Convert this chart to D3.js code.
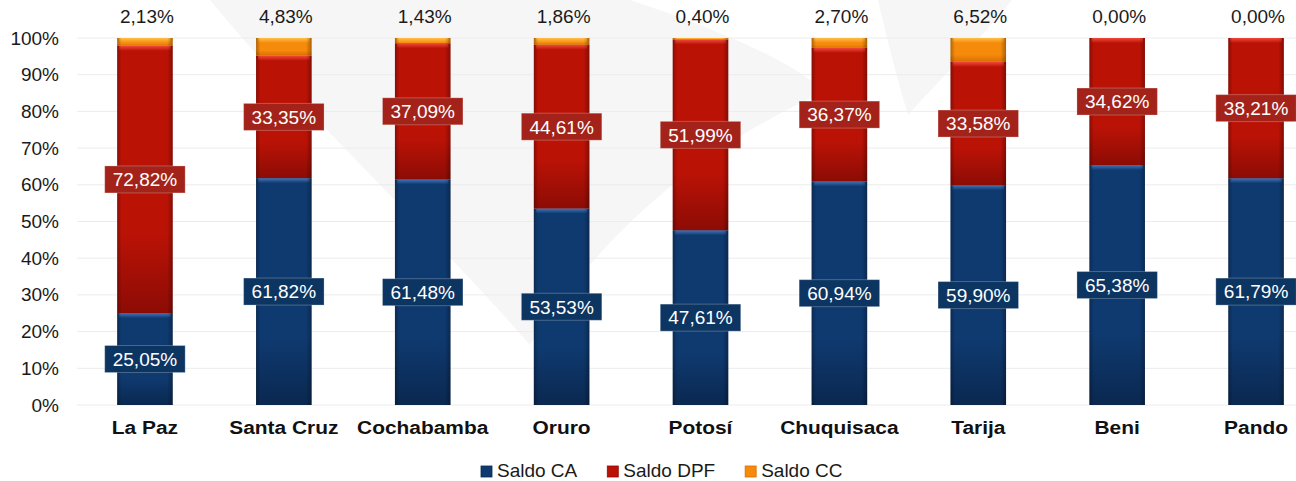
<!DOCTYPE html>
<html>
<head>
<meta charset="utf-8">
<script src="https://cdn.jsdelivr.net/npm/d3@7"></script>
<style>
  html, body { margin: 0; padding: 0; background: #fff; }
  svg { display: block; font-family: "Liberation Sans", Arial, sans-serif; }
</style>
</head>
<body>
<svg width="1296" height="481"></svg>
<script>
// data (percent of each department's total)
const categories = ["La Paz", "Santa Cruz", "Cochabamba", "Oruro", "Potosí", "Chuquisaca", "Tarija", "Beni", "Pando"];
const saldoCA  = [25.05, 61.82, 61.48, 53.53, 47.61, 60.94, 59.90, 65.38, 61.79];
const saldoDPF = [72.82, 33.35, 37.09, 44.61, 51.99, 36.37, 33.58, 34.62, 38.21];
const saldoCC  = [2.13, 4.83, 1.43, 1.86, 0.40, 2.70, 6.52, 0.00, 0.00];
const seriesNames = ["Saldo CA", "Saldo DPF", "Saldo CC"];
const yTicks = [0, 10, 20, 30, 40, 50, 60, 70, 80, 90, 100];

const rows = categories.map((c, i) => ({cat: c, ca: saldoCA[i], dpf: saldoDPF[i], cc: saldoCC[i]}));
const keys = ["ca", "dpf", "cc"];

const colors = {
  ca:  {main: "#0f3a70", dark: "#0a2850", hi: "#4474b8", box: "#0c3562"},
  dpf: {main: "#bb1206", dark: "#8c0c05", hi: "#f04a3a", box: "#a3231a"},
  cc:  {main: "#f68a0a", dark: "#d86e02", hi: "#ffc04a", box: "#d87000"}
};

const fmt = v => d3.format(".2f")(v).replace(".", ",") + "%";

const $svg = d3.select("svg");
const defs = $svg.append("defs");

keys.forEach(k => {
  const g = defs.append("linearGradient").attr("id", "v-" + k)
    .attr("x1", 0).attr("y1", 0).attr("x2", 0).attr("y2", 1);
  g.append("stop").attr("offset", "0%").attr("stop-color", colors[k].main);
  g.append("stop").attr("offset", "70%").attr("stop-color", colors[k].main);
  g.append("stop").attr("offset", "100%").attr("stop-color", colors[k].dark);

  const h = defs.append("linearGradient").attr("id", "hi-" + k)
    .attr("x1", 0).attr("y1", 0).attr("x2", 0).attr("y2", 1);
  h.append("stop").attr("offset", "0%").attr("stop-color", colors[k].hi);
  h.append("stop").attr("offset", "100%").attr("stop-color", colors[k].main);
});

// darker left / right edges of each bar
const edge = defs.append("linearGradient").attr("id", "edge")
  .attr("x1", 0).attr("y1", 0).attr("x2", 1).attr("y2", 0);
edge.append("stop").attr("offset", "0%").attr("stop-color", "#000").attr("stop-opacity", 0.28);
edge.append("stop").attr("offset", "8%").attr("stop-color", "#000").attr("stop-opacity", 0);
edge.append("stop").attr("offset", "90%").attr("stop-color", "#000").attr("stop-opacity", 0);
edge.append("stop").attr("offset", "100%").attr("stop-color", "#000").attr("stop-opacity", 0.3);

// faint watermark behind the chart
const wm = $svg.append("g").attr("fill", "#f6f6f6");
wm.append("path").attr("d", "M210,0 L630,0 C720,30 790,60 825,92 C690,150 590,250 530,345 C430,230 300,110 210,0 Z");
wm.append("path").attr("d", "M878,0 L1012,0 C975,45 935,85 908,115 C896,75 886,35 878,0 Z");

const x = d3.scaleBand()
  .domain(categories)
  .range([75.5, 1325.5])
  .paddingInner(0.6)
  .paddingOuter(0.3);

const y = d3.scaleLinear().domain([0, 100]).range([405, 38]);

// gridlines
$svg.append("g")
  .selectAll("line")
  .data(yTicks)
  .join("line")
    .attr("x1", 77).attr("x2", 1296)
    .attr("y1", d => y(d)).attr("y2", d => y(d))
    .attr("stroke", "#ececec").attr("stroke-width", 1);

// y axis
const yAxis = $svg.append("g")
  .attr("transform", "translate(60,0)")
  .call(d3.axisLeft(y).tickValues(yTicks).tickSize(0).tickPadding(1).tickFormat(d => d + "%"));
yAxis.select(".domain").remove();
yAxis.selectAll("text")
  .attr("font-size", 19)
  .attr("font-family", "Liberation Sans, Arial, sans-serif")
  .attr("fill", "#1a1a1a");

// bars
const stacked = d3.stack().keys(keys)(rows);
const bw = x.bandwidth();

const layer = $svg.append("g")
  .selectAll("g")
  .data(stacked)
  .join("g");

layer.each(function(s) {
  const k = s.key;
  const g = d3.select(this);
  const segs = s.filter(d => d[1] - d[0] > 0);
  g.selectAll("rect.main")
    .data(segs)
    .join("rect")
      .attr("class", "main")
      .attr("x", d => x(d.data.cat))
      .attr("y", d => y(d[1]))
      .attr("width", bw)
      .attr("height", d => y(d[0]) - y(d[1]))
      .attr("fill", "url(#v-" + k + ")");
  g.selectAll("rect.hi")
    .data(segs)
    .join("rect")
      .attr("class", "hi")
      .attr("x", d => x(d.data.cat) + 2)
      .attr("y", d => y(d[1]))
      .attr("width", bw - 4)
      .attr("height", d => Math.min(5, y(d[0]) - y(d[1])))
      .attr("fill", "url(#hi-" + k + ")");
  g.selectAll("rect.edge")
    .data(segs)
    .join("rect")
      .attr("class", "edge")
      .attr("x", d => x(d.data.cat))
      .attr("y", d => y(d[1]))
      .attr("width", bw)
      .attr("height", d => y(d[0]) - y(d[1]))
      .attr("fill", "url(#edge)");
});

// boxed labels inside CA and DPF segments
["ca", "dpf"].forEach(k => {
  const s = stacked.find(t => t.key === k);
  const lg = $svg.append("g")
    .selectAll("g")
    .data(s)
    .join("g")
      .attr("transform", d => `translate(${x(d.data.cat) + bw / 2},${y((d[0] + d[1]) / 2)})`);
  lg.append("text")
    .attr("text-anchor", "middle")
    .attr("dy", "0.36em")
    .attr("font-size", 19)
    .attr("fill", "#fff")
    .text(d => fmt(d.data[k]));
  lg.each(function() {
    const t = d3.select(this).select("text");
    const w = t.node().getComputedTextLength() + 16;
    d3.select(this).insert("rect", "text")
      .attr("x", -w / 2).attr("y", -13.5)
      .attr("width", w).attr("height", 27)
      .attr("fill", colors[k].box)
      .attr("stroke", "rgba(255,255,255,0.25)")
      .attr("stroke-width", 1);
  });
});

// CC labels above the bars
$svg.append("g")
  .selectAll("text")
  .data(rows)
  .join("text")
    .attr("x", d => x(d.cat) + bw / 2 + 2)
    .attr("y", 23)
    .attr("text-anchor", "middle")
    .attr("font-size", 19)
    .attr("fill", "#1a1a1a")
    .text(d => fmt(d.cc));

// category labels (a little wider than plain bold in the original)
$svg.append("g")
  .selectAll("text")
  .data(categories)
  .join("text")
    .attr("transform", d => `translate(${x(d) + bw / 2},434) scale(1.1,1)`)
    .attr("text-anchor", "middle")
    .attr("font-size", 19)
    .attr("font-weight", "bold")
    .attr("fill", "#111")
    .text(d => d);

// legend
const legend = $svg.append("g");
let lx = 481;
keys.forEach((k, i) => {
  const it = legend.append("g").attr("transform", `translate(${lx},0)`);
  it.append("rect")
    .attr("x", 0).attr("y", 466)
    .attr("width", 11).attr("height", 11)
    .attr("fill", colors[k].main)
    .attr("stroke", colors[k].dark).attr("stroke-width", 0.8);
  const t = it.append("text")
    .attr("x", 16).attr("y", 477)
    .attr("font-size", 19)
    .attr("fill", "#1a1a1a")
    .text(seriesNames[i]);
  lx += 16 + t.node().getComputedTextLength() + 30;
});
</script>
</body>
</html>
